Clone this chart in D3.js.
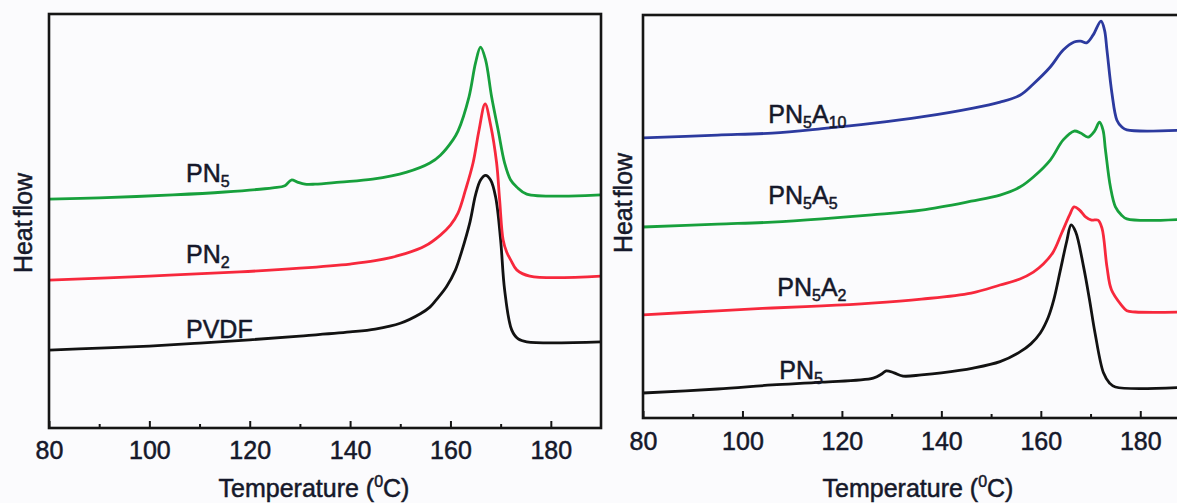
<!DOCTYPE html>
<html>
<head>
<meta charset="UTF-8">
<title>DSC melting curves</title>
<script src="https://cdnjs.cloudflare.com/ajax/libs/d3/7.8.5/d3.min.js"></script>
<style>
  body { margin: 0; background: #fbfbfd; }
  svg text { font-family: "Liberation Sans", Arial, sans-serif; fill: #15182a; stroke: #15182a; stroke-width: 0.5px; }
</style>
</head>
<body>
<script>
// tick labels
const majorTicks = [80, 100, 120, 140, 160, 180];
const minorTicks = [90, 110, 130, 150, 170];

// left panel: heat flow (a.u.) vs temperature
const pvdfT = [80, 90, 100, 110, 120, 130, 140, 145, 150, 154, 155.9, 157, 159.2, 161, 162.2, 163.9, 165, 166, 167, 168, 169, 170, 170.8, 172.2, 173.5, 175.2, 190];
const pvdfV = [18.8, 19.3, 19.8, 20.5, 21.3, 22.2, 23.2, 23.9, 25.3, 27.6, 29.2, 30.7, 34.1, 38.2, 42.5, 49.8, 56.3, 59.9, 61.0, 59.9, 55.8, 45.4, 33.3, 23.7, 21.5, 20.8, 20.8];

const pn2T = [80, 100, 118, 130, 140, 145, 151, 155, 158, 160, 161.5, 163, 164.5, 165.7, 166.9, 168, 169.2, 169.8, 170.5, 171.2, 172, 173.2, 175.8, 190];
const pn2V = [35.7, 36.7, 37.7, 38.6, 39.6, 40.4, 42.1, 44.0, 46.6, 49.0, 51.9, 57.5, 64.0, 72.0, 78.3, 73.2, 64.0, 55.1, 45.4, 42.5, 40.6, 38.2, 36.7, 36.7];

const pn5T = [80, 90, 104.7, 115, 124.6, 127, 128.3, 129.5, 131, 133, 138, 144.5, 151.3, 155.9, 158, 160.5, 161.5, 163.7, 165, 166, 167, 168.2, 169.5, 170.8, 172, 173.2, 175.2, 190];
const pn5V = [55.3, 55.6, 56.3, 57.0, 58.0, 58.5, 59.9, 59.4, 58.9, 58.9, 59.4, 60.1, 61.8, 64.0, 65.9, 69.6, 71.7, 80.0, 88.2, 92.0, 88.9, 80.0, 72.0, 64.0, 59.9, 58.2, 56.5, 56.3];

// right panel
const rPn5T = [80, 95, 106, 116, 126.3, 128, 128.9, 130.5, 132.3, 136, 140, 146.4, 151.8, 155.8, 158, 159.9, 161.5, 162.6, 163.9, 165.2, 166.1, 167, 168.6, 169.8, 170.9, 172.6, 173.8, 175, 190];
const rPn5V = [6.2, 7.2, 8.2, 8.9, 9.9, 10.9, 11.7, 11.2, 10.4, 10.7, 11.2, 12.4, 14.0, 16.4, 18.4, 21.1, 25.0, 29.3, 36.5, 43.8, 47.9, 46.2, 37.5, 29.3, 21.1, 11.2, 8.7, 7.7, 7.7];

const a2T = [80, 95, 106, 116, 126, 136, 146, 151.8, 155.8, 158.5, 160.5, 162.5, 164.2, 165.8, 166.7, 167.8, 169, 170.2, 171.5, 172.3, 173.3, 174.2, 176.2, 177.3, 179, 190];
const a2V = [25.6, 26.6, 27.3, 27.8, 28.5, 29.5, 31.0, 33.0, 34.5, 36.2, 38.2, 41.2, 45.9, 50.4, 52.4, 51.6, 49.9, 49.1, 49.1, 47.1, 37.5, 31.8, 28.0, 26.6, 26.3, 26.3];

const a5T = [80, 95, 106, 116, 126, 136, 146, 151.8, 155.8, 158.5, 161.9, 164.5, 166.7, 168, 169.5, 170.8, 171.8, 172.5, 173, 174, 175, 176.2, 177.3, 190];
const a5V = [47.4, 48.1, 48.6, 49.4, 50.4, 51.6, 53.8, 55.3, 57.3, 59.8, 64.0, 69.0, 71.2, 70.7, 69.7, 71.2, 73.4, 71.5, 66.5, 57.3, 52.4, 50.4, 49.4, 49.4];

const a10T = [80, 95, 106, 116, 126, 136, 146.4, 151.8, 155.8, 158.5, 161.9, 164.5, 166.7, 168, 169.2, 170.5, 172.1, 172.8, 173.3, 174.3, 175.3, 176.3, 177.3, 190];
const a10V = [69.5, 70.2, 70.7, 71.8, 73.1, 74.7, 76.9, 78.4, 80.1, 82.9, 87.1, 91.3, 93.3, 93.5, 93.1, 95.0, 98.5, 96.3, 91.3, 80.6, 73.9, 72.2, 71.5, 71.5];

const svg = d3.select("body").append("svg")
  .attr("width", 1177)
  .attr("height", 503);

function drawPanel(p) {
  const x = d3.scaleLinear().domain([80, 190]).range([p.left, p.right]);
  const y = d3.scaleLinear().domain([0, 100]).range([p.bottom, p.top]);
  const g = svg.append("g");

  // curves
  const line = d3.line()
    .x(d => x(d[0]))
    .y(d => y(d[1]))
    .curve(d3.curveCatmullRom.alpha(0.5));

  p.series.forEach(s => {
    g.append("path")
      .datum(d3.zip(s.t, s.v))
      .attr("d", line)
      .attr("fill", "none")
      .attr("stroke", s.color)
      .attr("stroke-width", 2.8)
      .attr("stroke-linejoin", "round");

    // label with subscripts
    const txt = g.append("text")
      .attr("x", x(s.lx))
      .attr("y", y(s.ly))
      .attr("font-size", 25);
    let sub = false;
    s.label.forEach(part => {
      const isSub = part[1];
      const ts = txt.append("tspan").text(part[0]);
      if (isSub && !sub) ts.attr("dy", 5).attr("font-size", 16);
      else if (isSub) ts.attr("font-size", 16);
      else if (sub) ts.attr("dy", -5);
      sub = isSub;
    });
  });

  // frame
  g.append("rect")
    .attr("x", p.left)
    .attr("y", p.top)
    .attr("width", p.right - p.left)
    .attr("height", p.bottom - p.top)
    .attr("fill", "none")
    .attr("stroke", "#151515")
    .attr("stroke-width", 2.6);

  // axes
  const ax = g.append("g")
    .attr("transform", `translate(0,${p.bottom})`)
    .call(d3.axisBottom(x).tickValues(majorTicks).tickSizeInner(-7).tickSizeOuter(0).tickPadding(p.pad));
  ax.select(".domain").remove();
  ax.selectAll("line").attr("stroke", "#151515").attr("stroke-width", 2);
  ax.selectAll("text").attr("font-size", 25).attr("fill", "#15182a");

  const mx = g.append("g")
    .attr("transform", `translate(0,${p.bottom})`)
    .call(d3.axisBottom(x).tickValues(minorTicks).tickSizeInner(-4).tickSizeOuter(0).tickFormat(""));
  mx.select(".domain").remove();
  mx.selectAll("line").attr("stroke", "#151515").attr("stroke-width", 2);

  // axis titles
  const t = g.append("text")
    .attr("x", p.titleX)
    .attr("y", 497)
    .attr("text-anchor", "middle")
    .attr("font-size", 25);
  t.append("tspan").text("Temperature (");
  t.append("tspan").text("0").attr("font-size", 16).attr("dy", -10);
  t.append("tspan").text("C)").attr("dy", 10);

  g.append("text")
    .attr("transform", `translate(${p.yLabelX},${p.yLabelY}) rotate(-90)`)
    .attr("text-anchor", "middle")
    .attr("font-size", 25)
    .attr("word-spacing", -4)
    .text("Heat flow");
}

drawPanel({
  left: 49, right: 601, top: 14, bottom: 428, pad: 13,
  titleX: 314, yLabelX: 32, yLabelY: 223,
  series: [
    {t: pvdfT, v: pvdfV, color: "#121212", label: [["PVDF", false]], lx: 107.3, ly: 21.7},
    {t: pn2T, v: pn2V, color: "#f7283c", label: [["PN", false], ["2", true]], lx: 107.3, ly: 39.9},
    {t: pn5T, v: pn5V, color: "#17a03c", label: [["PN", false], ["5", true]], lx: 107.3, ly: 59.5}
  ]
});

drawPanel({
  left: 643, right: 1190, top: 15, bottom: 418, pad: 14,
  titleX: 918, yLabelX: 632, yLabelY: 203,
  series: [
    {t: rPn5T, v: rPn5V, color: "#121212", label: [["PN", false], ["5", true]], lx: 107.4, ly: 9.7},
    {t: a2T, v: a2V, color: "#f7283c", label: [["PN", false], ["5", true], ["A", false], ["2", true]], lx: 107.0, ly: 30.3},
    {t: a5T, v: a5V, color: "#17a03c", label: [["PN", false], ["5", true], ["A", false], ["5", true]], lx: 105.2, ly: 53.0},
    {t: a10T, v: a10V, color: "#2c3a9f", label: [["PN", false], ["5", true], ["A", false], ["10", true]], lx: 105.2, ly: 73.3}
  ]
});
</script>
</body>
</html>
